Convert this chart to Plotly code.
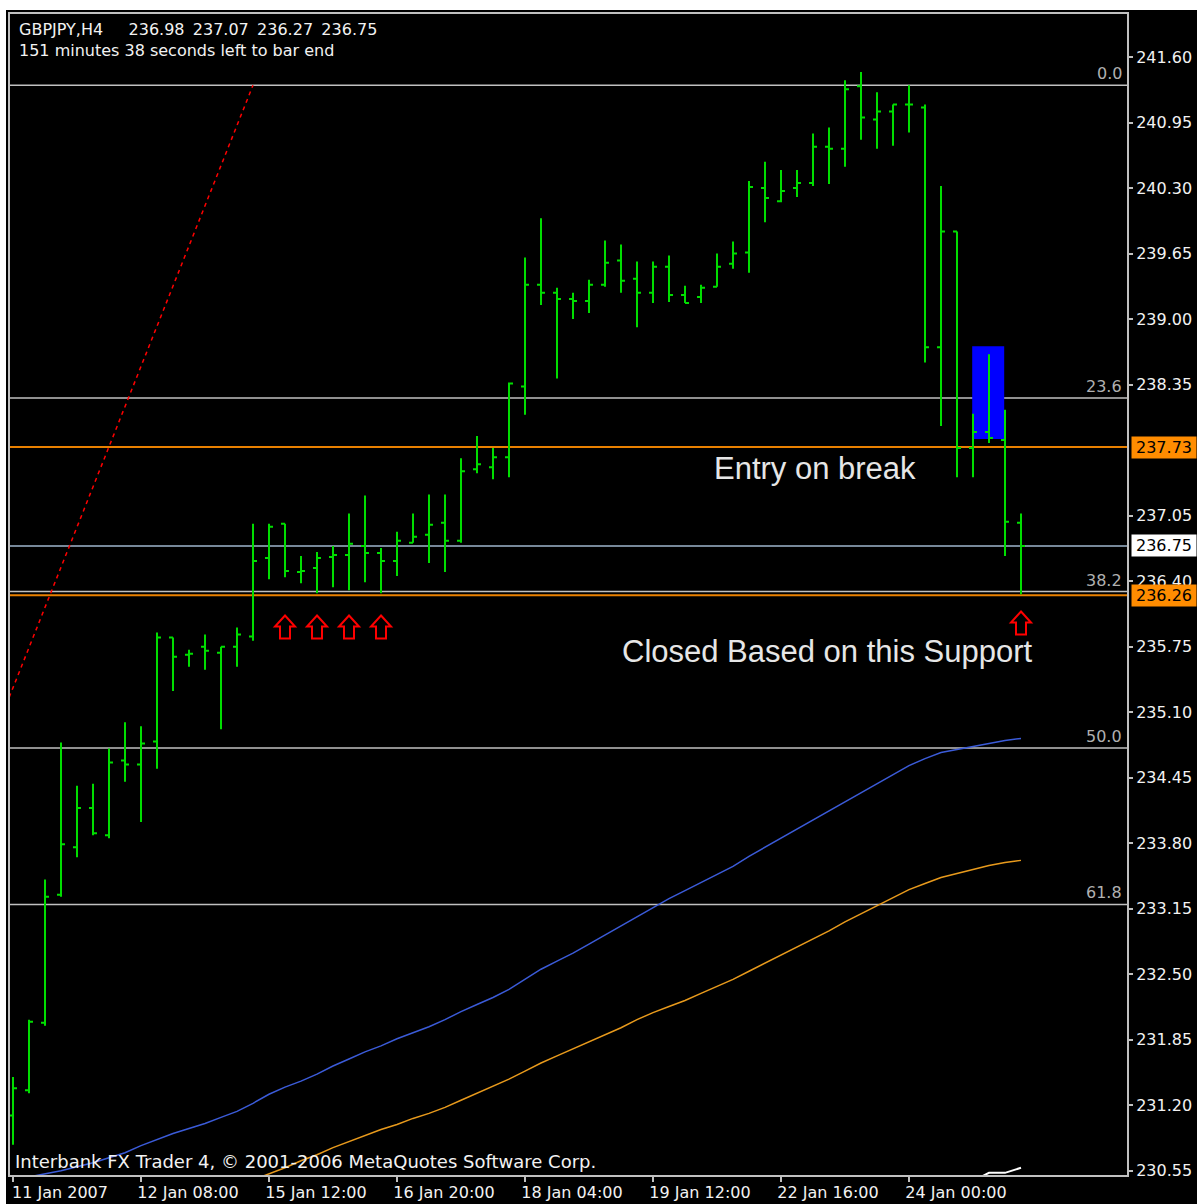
import plotly.graph_objects as go

FONT = "DejaVu Sans"
BG = "#000000"
FRAME = "#C0C0C0"
TEXT = "#F2F2F2"
BAR_GREEN = "#00DD00"

# ---- data -------------------------------------------------------------
x_tick_bars = [0, 8, 16, 24, 32, 40, 48, 56]
x_tick_labels = ["11 Jan 2007", "12 Jan 08:00", "15 Jan 12:00", "16 Jan 20:00",
                 "18 Jan 04:00", "19 Jan 12:00", "22 Jan 16:00", "24 Jan 00:00"]
y_tick_vals = [230.55, 231.20, 231.85, 232.50, 233.15, 233.80, 234.45, 235.10,
               235.75, 236.40, 237.05, 238.35, 239.00, 239.65, 240.30, 240.95, 241.60]

bar_open = [231.10, 231.35, 232.02, 233.29, 233.76, 234.15, 233.88, 234.62, 234.58, 234.81,
            235.84, 235.67, 235.75, 235.69, 235.75, 235.85, 236.63, 236.97, 236.49, 236.53,
            236.64, 236.66, 236.75, 236.68, 236.60, 236.78, 236.86, 236.98, 236.80, 237.51,
            237.53, 237.63, 238.33, 239.34, 239.26, 239.20, 239.18, 239.34, 239.58, 239.40,
            239.26, 239.52, 239.24, 239.22, 239.32, 239.55, 239.66, 240.30, 240.17, 240.30,
            240.35, 240.71, 240.69, 241.31, 240.98, 241.06, 241.13, 241.10, 238.72, 239.87,
            237.72, 237.88, 237.80, 236.98]
bar_high = [231.48, 232.05, 233.44, 234.80, 234.37, 234.39, 234.74, 235.00, 234.96, 235.89,
            235.84, 235.72, 235.87, 235.75, 235.94, 236.97, 236.97, 236.97, 236.65, 236.69,
            236.75, 237.07, 237.25, 236.73, 236.89, 237.07, 237.26, 237.26, 237.62, 237.84,
            237.72, 238.37, 239.61, 240.00, 239.31, 239.26, 239.39, 239.78, 239.74, 239.57,
            239.57, 239.63, 239.33, 239.34, 239.65, 239.77, 240.37, 240.56, 240.48, 240.48,
            240.84, 240.90, 241.37, 241.45, 241.25, 241.13, 241.32, 241.13, 240.32, 239.87,
            238.06, 238.65, 238.10, 237.07]
bar_low = [230.81, 231.32, 231.99, 233.27, 233.66, 233.88, 233.85, 234.41, 234.01, 234.54,
           235.31, 235.55, 235.52, 234.93, 235.55, 235.81, 236.42, 236.44, 236.38, 236.28,
           236.34, 236.31, 236.39, 236.28, 236.45, 236.78, 236.58, 236.49, 236.78, 237.47,
           237.41, 237.43, 238.05, 239.14, 238.41, 239.00, 239.06, 239.32, 239.26, 238.92,
           239.16, 239.17, 239.16, 239.16, 239.32, 239.50, 239.46, 239.96, 240.16, 240.21,
           240.32, 240.34, 240.51, 240.78, 240.69, 240.72, 240.85, 238.57, 237.94, 237.43,
           237.43, 237.77, 236.65, 236.27]
bar_close = [231.37, 232.03, 233.27, 233.79, 234.15, 233.90, 234.60, 234.58, 234.79, 235.84,
             235.65, 235.68, 235.71, 235.75, 235.87, 236.60, 236.94, 236.50, 236.50, 236.63,
             236.66, 236.77, 236.68, 236.60, 236.80, 236.84, 236.96, 236.80, 237.49, 237.56,
             237.63, 238.36, 239.34, 239.26, 239.20, 239.18, 239.34, 239.56, 239.38, 239.26,
             239.52, 239.24, 239.16, 239.31, 239.52, 239.65, 240.31, 240.20, 240.27, 240.35,
             240.71, 240.69, 241.28, 241.00, 241.06, 241.13, 241.13, 238.72, 239.87, 237.72,
             237.88, 237.82, 236.99, 236.75]

ma_blue = [230.46, 230.49, 230.52, 230.55, 230.59, 230.63, 230.68, 230.73, 230.80, 230.86,
           230.92, 230.97, 231.02, 231.08, 231.14, 231.22, 231.31, 231.38, 231.44, 231.51,
           231.59, 231.66, 231.73, 231.79, 231.86, 231.92, 231.98, 232.05, 232.13, 232.20,
           232.27, 232.35, 232.45, 232.55, 232.63, 232.71, 232.80, 232.89, 232.98, 233.07,
           233.16, 233.25, 233.33, 233.41, 233.49, 233.57, 233.67, 233.76, 233.85, 233.94,
           234.03, 234.12, 234.21, 234.30, 234.39, 234.48, 234.57, 234.64, 234.70, 234.73,
           234.76, 234.79, 234.82, 234.84]
ma_orange = [None] * 15 + [
    230.46, 230.52, 230.58, 230.65, 230.71, 230.78, 230.84, 230.90, 230.96, 231.01,
    231.07, 231.12, 231.18, 231.25, 231.32, 231.39, 231.46, 231.54, 231.62, 231.69,
    231.76, 231.83, 231.90, 231.97, 232.05, 232.12, 232.18, 232.24, 232.31, 232.38,
    232.45, 232.53, 232.61, 232.69, 232.77, 232.85, 232.93, 233.02, 233.10, 233.18,
    233.26, 233.34, 233.40, 233.46, 233.50, 233.54, 233.58, 233.61, 233.63]
ma_white = [None] * 60 + [230.45, 230.53, 230.53, 230.58]

fib_high = 241.32
fib_low = 228.17
fib_levels = [0.0, 23.6, 38.2, 50.0, 61.8]
trend_bars = [-18, 15]

entry_price = 237.73
support_price = 236.26
bid_price = 236.75

box_bars = [59.95, 61.95]
box_prices = [237.81, 238.73]

arrow_bars = [17, 19, 21, 23, 63]
arrow_prices = [235.94, 235.94, 235.94, 235.94, 235.98]

bars = list(range(len(bar_open)))
fib_prices = [fib_high - (fib_high - fib_low) * lv / 100 for lv in fib_levels]

# hollow block arrow, in pixels around its anchor point
ARROW_PATH = "M0,12 L10,1 L5,1 L5,-11 L-5,-11 L-5,1 L-10,1 Z"

# ---- figure -----------------------------------------------------------
fig = go.Figure()

fig.add_shape(type="rect", x0=box_bars[0], x1=box_bars[1], y0=box_prices[0], y1=box_prices[1],
              fillcolor="#0000FF", line_width=0, layer="below")

for p in fib_prices:
    fig.add_shape(type="line", xref="paper", x0=0, x1=1, y0=p, y1=p,
                  line=dict(color=FRAME, width=1.5), layer="below")
for p in [entry_price, support_price]:
    fig.add_shape(type="line", xref="paper", x0=0, x1=1, y0=p, y1=p,
                  line=dict(color="#E88000", width=2), layer="below")
fig.add_shape(type="line", xref="paper", x0=0, x1=1, y0=bid_price, y1=bid_price,
              line=dict(color="#778899", width=2), layer="below")

fig.add_trace(go.Scatter(x=bars, y=ma_blue, mode="lines",
                         line=dict(color="#3B5BD8", width=1.5), hoverinfo="skip"))
fig.add_trace(go.Scatter(x=bars, y=ma_orange, mode="lines",
                         line=dict(color="#E89A1C", width=1.5), hoverinfo="skip"))
fig.add_trace(go.Scatter(x=bars, y=ma_white, mode="lines",
                         line=dict(color="#FFFFFF", width=2), hoverinfo="skip"))

fig.add_trace(go.Ohlc(
    x=bars, open=bar_open, high=bar_high, low=bar_low, close=bar_close,
    increasing=dict(line=dict(color=BAR_GREEN, width=2)),
    decreasing=dict(line=dict(color=BAR_GREEN, width=2)),
    tickwidth=0.25, hoverinfo="skip",
))

fig.add_trace(go.Scatter(x=trend_bars, y=[fib_low, fib_high], mode="lines",
                         line=dict(color="#FF0000", width=1.5, dash="4px,4px"),
                         hoverinfo="skip"))

for b, p in zip(arrow_bars, arrow_prices):
    fig.add_shape(type="path", xsizemode="pixel", ysizemode="pixel", xanchor=b, yanchor=p,
                  path=ARROW_PATH, line=dict(color="#FF0000", width=2), fillcolor="rgba(0,0,0,0)")

# fib level captions
for lv, p in zip(fib_levels, fib_prices):
    fig.add_annotation(xref="paper", x=1, xanchor="right", xshift=-3, y=p, yanchor="bottom",
                       text=f"{lv:.1f}", showarrow=False,
                       font=dict(family=FONT, size=16, color="#B0B0B0"))

# price boxes on the axis
for p, bg in [(entry_price, "#FF8C00"), (support_price, "#FF8C00"), (bid_price, "#FFFFFF")]:
    fig.add_annotation(xref="paper", x=1, xanchor="left", xshift=4, y=p, yanchor="middle",
                       text=f"{p:.2f}", showarrow=False, bgcolor=bg, borderpad=1, width=62,
                       font=dict(family=FONT, size=16, color="#000000"))

fig.add_annotation(xref="paper", yref="paper", x=0, y=1, xanchor="left", yanchor="top",
                   xshift=7, yshift=-4, align="left", showarrow=False,
                   text="GBPJPY,H4" + "\u00a0" * 5 + "236.98\u2009 237.07\u2009 236.27\u2009 236.75"
                        "<br>151 minutes 38 seconds left to bar end",
                   font=dict(family=FONT, size=16, color=TEXT))
fig.add_annotation(xref="paper", yref="paper", x=0, y=0, xanchor="left", yanchor="bottom",
                   xshift=3, yshift=1, showarrow=False,
                   text="Interbank FX Trader 4, \u00a9 2001-2006 MetaQuotes Software Corp.",
                   font=dict(family=FONT, size=18, color=TEXT))
fig.add_annotation(x=43.69, y=237.52, xanchor="left", yanchor="middle", showarrow=False,
                   text="Entry on break", font=dict(family="Liberation Sans", size=31, color="#E6E6E6"))
fig.add_annotation(x=37.94, y=235.70, xanchor="left", yanchor="middle", showarrow=False,
                   text="Closed Based on this Support",
                   font=dict(family="Liberation Sans", size=31, color="#E6E6E6"))

# white page edges
fig.add_shape(type="rect", xref="paper", yref="paper", x0=-0.05, x1=-4 / 1117, y0=-0.1, y1=1.1,
              fillcolor="#FFFFFF", line_width=0, layer="above")
fig.add_shape(type="rect", xref="paper", yref="paper", x0=-0.05, x1=1.1, y0=1 + 4 / 1161, y1=1.1,
              fillcolor="#FFFFFF", line_width=0, layer="above")

fig.update_layout(
    width=1197, height=1204,
    margin=dict(l=10, r=70, t=14, b=29, autoexpand=False),
    paper_bgcolor=BG, plot_bgcolor=BG,
    showlegend=False,
    font=dict(family=FONT, size=16, color=TEXT),
    xaxis=dict(
        range=[-0.1875, 69.625], rangeslider=dict(visible=False), automargin=False,
        tickvals=x_tick_bars, ticktext=x_tick_labels, ticks="outside", ticklen=5,
        tickcolor=FRAME, tickwidth=2, ticklabelshift=47, ticklabelstandoff=-3,
        tickfont=dict(family=FONT, size=16, color=TEXT),
        showgrid=False, zeroline=False, showline=True, linecolor=FRAME, linewidth=2, mirror=True,
    ),
    yaxis=dict(
        range=[230.5087, 242.0266], side="right", automargin=False,
        tickvals=y_tick_vals, tickformat=".2f", ticks="outside", ticklen=4,
        tickcolor=FRAME, tickwidth=1.5, ticklabelstandoff=0,
        tickfont=dict(family=FONT, size=16, color=TEXT),
        showgrid=False, zeroline=False, showline=True, linecolor=FRAME, linewidth=2, mirror=True,
    ),
)

fig.write_html("out.html", config={"displayModeBar": False},
               post_script="document.body.style.margin='0';")
